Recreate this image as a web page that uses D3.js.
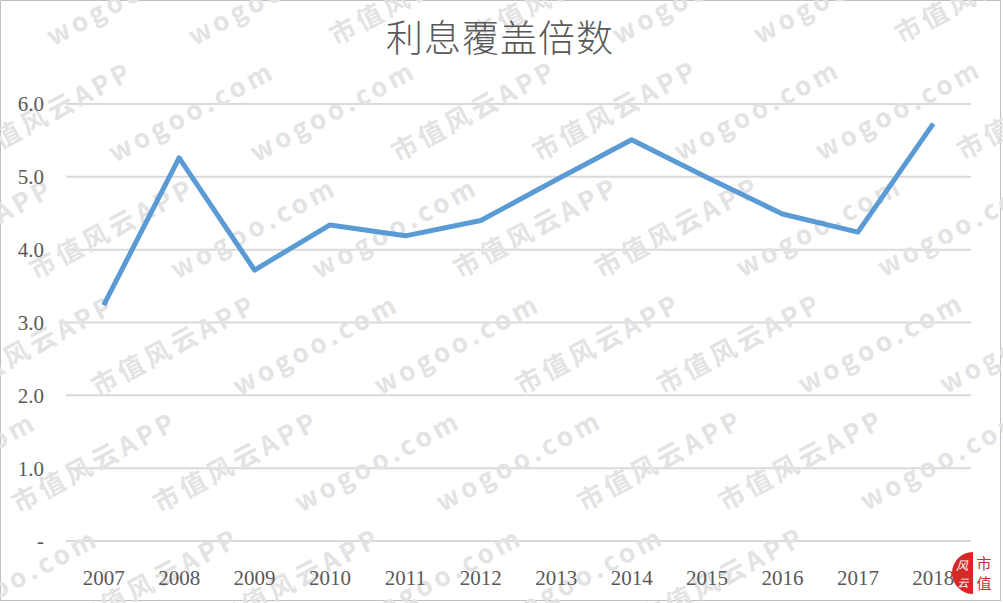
<!DOCTYPE html>
<html>
<head>
<meta charset="utf-8">
<script src="https://cdn.jsdelivr.net/npm/d3@7"></script>
<style>
  html, body { margin: 0; padding: 0; background: #fff; }
  svg { display: block; }
</style>
</head>
<body>
<svg id="chart"></svg>
<script>
const WIDTH = 1003;
const HEIGHT = 603;

const years = ["2007","2008","2009","2010","2011","2012","2013","2014","2015","2016","2017","2018"];
const coverage = [3.24, 5.26, 3.72, 4.34, 4.19, 4.40, 4.96, 5.51, 4.99, 4.49, 4.24, 5.73];
const yTicks = [0, 1, 2, 3, 4, 5, 6];
const title = "利息覆盖倍数";
const marks = ["市值风云APP", "wogoo.com"];

const svg = d3.select("#chart").attr("width", WIDTH).attr("height", HEIGHT);

// frame
svg.append("rect")
  .attr("x", 0.5).attr("y", 0.5)
  .attr("width", WIDTH - 3).attr("height", HEIGHT - 3)
  .attr("fill", "#fff").attr("stroke", "#bfbfbf");

const x = d3.scaleBand().domain(years).range([66, 971]);
const y = d3.scaleLinear().domain([0, 6]).range([541, 104]);

// gridlines
svg.append("g")
  .selectAll("line").data(yTicks).enter()
  .append("line")
  .attr("x1", 66).attr("x2", 971)
  .attr("y1", d => y(d)).attr("y2", d => y(d))
  .attr("stroke", "#d9d9d9").attr("stroke-width", 2);

// watermark
const wm = svg.append("g").attr("transform", "rotate(-28)")
  .attr("font-family", "'Noto Sans CJK SC', 'DejaVu Sans', sans-serif")
  .attr("font-size", 26).attr("font-weight", 700)
  .attr("fill", "#e3e3e3").attr("letter-spacing", 4);
for (let r = -4; r < 14; r++) {
  for (let c = -4; c < 10; c++) {
    wm.append("text")
      .attr("x", c * 250 + (r % 2) * 125 - 100)
      .attr("y", r * 66)
      .text(marks[(c + r + 40) % 2]);
  }
}
// drop copies that land completely outside the picture
wm.selectAll("text").each(function() {
  const b = this.getBoundingClientRect();
  if (b.right < 0 || b.bottom < 0 || b.left > WIDTH || b.top > HEIGHT) {
    d3.select(this).remove();
  }
});

// y axis labels
svg.append("g")
  .selectAll("text").data(yTicks).enter()
  .append("text")
  .attr("x", 44)
  .attr("y", d => y(d))
  .attr("dy", "0.35em")
  .attr("text-anchor", "end")
  .attr("font-family", "'Liberation Serif', 'DejaVu Serif', serif")
  .attr("font-size", 21).attr("fill", "#595959")
  .text(d => d === 0 ? "-" : d3.format(".1f")(d));

// x axis labels
svg.append("g")
  .selectAll("text").data(years).enter()
  .append("text")
  .attr("x", d => x(d) + x.bandwidth() / 2)
  .attr("y", 585)
  .attr("text-anchor", "middle")
  .attr("font-family", "'Liberation Serif', 'DejaVu Serif', serif")
  .attr("font-size", 21).attr("fill", "#595959")
  .text(d => d);

// line
const line = d3.line()
  .x((d, i) => x(years[i]) + x.bandwidth() / 2)
  .y(d => y(d));
svg.append("path").datum(coverage)
  .attr("d", line)
  .attr("fill", "none").attr("stroke", "#5b9bd5")
  .attr("stroke-width", 5).attr("stroke-linejoin", "round");

// title
svg.append("text")
  .attr("x", 500).attr("y", 52)
  .attr("text-anchor", "middle")
  .attr("font-family", "'Noto Sans CJK SC', sans-serif")
  .attr("font-size", 37).attr("font-weight", 300).attr("fill", "#595959")
  .attr("letter-spacing", 1)
  .text(title);

// logo
const logo = svg.append("g");
logo.append("path")
  .attr("d", d3.arc()({innerRadius: 0, outerRadius: 21, startAngle: Math.PI, endAngle: 2 * Math.PI}))
  .attr("transform", "translate(973,573)")
  .attr("fill", "#d42a27");
logo.append("text").attr("x", 962).attr("y", 570).attr("text-anchor", "middle")
  .attr("font-family", "'Noto Sans CJK SC', sans-serif").attr("font-size", 12)
  .attr("fill", "#fff").attr("font-style", "italic").text("风");
logo.append("text").attr("x", 963).attr("y", 587).attr("text-anchor", "middle")
  .attr("font-family", "'Noto Sans CJK SC', sans-serif").attr("font-size", 11)
  .attr("fill", "#fff").attr("font-style", "italic").text("云");
logo.append("text").attr("x", 984).attr("y", 569).attr("text-anchor", "middle")
  .attr("font-family", "'Noto Sans CJK SC', sans-serif").attr("font-size", 15)
  .attr("fill", "#d42a27").text("市");
logo.append("text").attr("x", 984).attr("y", 589).attr("text-anchor", "middle")
  .attr("font-family", "'Noto Sans CJK SC', sans-serif").attr("font-size", 15)
  .attr("fill", "#d42a27").text("值");
</script>
</body>
</html>
